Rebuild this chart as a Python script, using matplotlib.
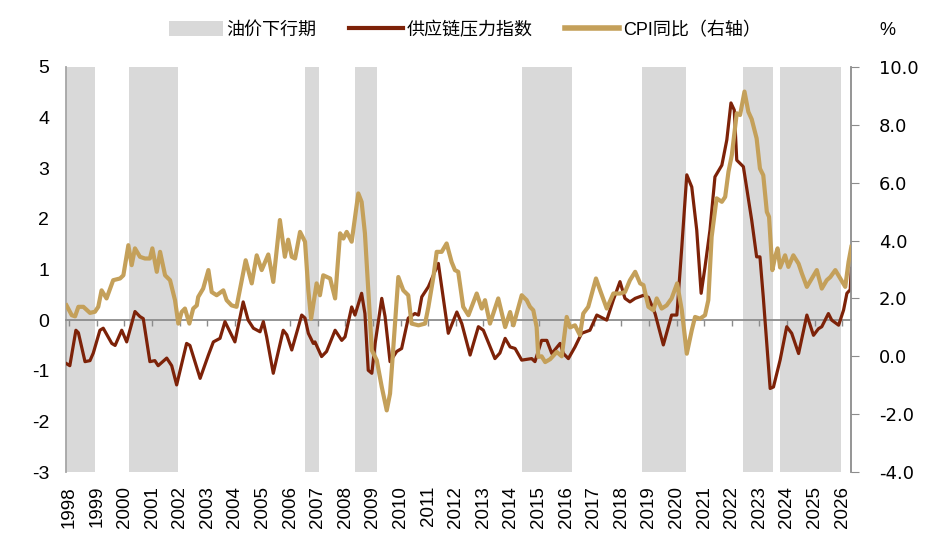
import numpy as np
import matplotlib
matplotlib.use("Agg")
import matplotlib.pyplot as plt
from matplotlib.patches import Patch
from matplotlib.lines import Line2D

plt.rcParams['font.family'] = ['Liberation Sans', 'Noto Sans CJK SC', 'DejaVu Sans']
plt.rcParams['axes.unicode_minus'] = False

# oil price down periods (decimal years)
oil_down = [(1997.88, 1998.94), (2000.17, 2001.95), (2006.54, 2007.04),
            (2008.35, 2009.14), (2014.39, 2016.20), (2018.74, 2020.34),
            (2022.40, 2023.50), (2023.75, 2025.95)]

# supply chain pressure index (left axis)
gscpi_t = [1997.90, 1998.02, 1998.24, 1998.33, 1998.57, 1998.75, 1998.87, 1999.11, 1999.23, 1999.54,
           1999.66, 1999.90, 2000.08, 2000.38, 2000.56, 2000.68, 2000.92, 2001.10, 2001.22, 2001.53,
           2001.71, 2001.89, 2002.25, 2002.37, 2002.74, 2003.04, 2003.22, 2003.46, 2003.64, 2004.00,
           2004.30, 2004.48, 2004.67, 2004.91, 2005.03, 2005.15, 2005.39, 2005.75, 2005.88, 2006.06,
           2006.42, 2006.54, 2006.66, 2006.84, 2006.90, 2007.14, 2007.32, 2007.63, 2007.87, 2007.99,
           2008.23, 2008.35, 2008.59, 2008.71, 2008.83, 2008.96, 2009.08, 2009.32, 2009.44, 2009.62,
           2009.86, 2010.04, 2010.28, 2010.52, 2010.65, 2010.77, 2011.01, 2011.37, 2011.73, 2012.04,
           2012.22, 2012.52, 2012.82, 2013.00, 2013.42, 2013.60, 2013.79, 2013.97, 2014.15, 2014.39,
           2014.75, 2014.87, 2015.11, 2015.30, 2015.48, 2015.78, 2015.90, 2016.08, 2016.32, 2016.56,
           2016.86, 2017.11, 2017.47, 2017.71, 2017.95, 2018.13, 2018.31, 2018.50, 2018.80, 2018.98,
           2019.22, 2019.52, 2019.82, 2020.01, 2020.19, 2020.37, 2020.55, 2020.73, 2020.89, 2021.03,
           2021.21, 2021.39, 2021.64, 2021.82, 2021.97, 2022.09, 2022.18, 2022.42, 2022.72, 2022.90,
           2023.02, 2023.14, 2023.39, 2023.51, 2023.75, 2023.99, 2024.17, 2024.42, 2024.72, 2024.96,
           2025.14, 2025.26, 2025.50, 2025.62, 2025.87, 2026.05, 2026.17, 2026.29, 2026.33]
gscpi_v = [-0.86, -0.90, -0.20, -0.25, -0.82, -0.80, -0.65, -0.20, -0.16, -0.46,
           -0.50, -0.20, -0.43, 0.17, 0.07, 0.03, -0.82, -0.80, -0.90, -0.75,
           -0.90, -1.28, -0.46, -0.50, -1.15, -0.69, -0.43, -0.36, -0.03, -0.43,
           0.36, 0.00, -0.16, -0.23, -0.03, -0.33, -1.05, -0.20, -0.29, -0.59,
           0.10, 0.04, -0.26, -0.46, -0.43, -0.72, -0.62, -0.20, -0.40, -0.33,
           0.26, 0.10, 0.53, 0.13, -0.99, -1.05, -0.46, 0.43, 0.07, -0.82,
           -0.62, -0.56, 0.04, 0.13, 0.10, 0.46, 0.66, 1.12, -0.26, 0.16,
           -0.07, -0.69, -0.13, -0.20, -0.76, -0.65, -0.36, -0.53, -0.56, -0.79,
           -0.76, -0.82, -0.40, -0.40, -0.66, -0.46, -0.66, -0.76, -0.53, -0.26,
           -0.20, 0.10, 0.00, 0.40, 0.76, 0.43, 0.36, 0.43, 0.49, 0.45,
           0.13, -0.49, 0.10, 0.10, 1.45, 2.87, 2.63, 1.78, 0.53, 1.05,
           1.78, 2.83, 3.06, 3.56, 4.29, 4.15, 3.16, 3.03, 1.98, 1.25,
           1.25, 0.46, -1.35, -1.32, -0.79, -0.13, -0.26, -0.66, 0.10, -0.30,
           -0.17, -0.13, 0.13, 0.00, -0.10, 0.20, 0.53, 0.60, 1.02]

# CPI yoy % (right axis)
cpi_t = [1997.90, 1998.09, 1998.21, 1998.33, 1998.51, 1998.75, 1998.93, 1999.05, 1999.17, 1999.35,
         1999.59, 1999.84, 1999.96, 2000.05, 2000.14, 2000.26, 2000.38, 2000.56, 2000.74, 2000.92,
         2001.01, 2001.17, 2001.29, 2001.47, 2001.65, 2001.83, 2001.95, 2002.07, 2002.19, 2002.35,
         2002.49, 2002.62, 2002.67, 2002.85, 2003.04, 2003.16, 2003.34, 2003.58, 2003.70, 2003.88,
         2004.06, 2004.25, 2004.39, 2004.61, 2004.79, 2004.97, 2005.21, 2005.39, 2005.63, 2005.81,
         2005.93, 2006.06, 2006.18, 2006.36, 2006.54, 2006.66, 2006.76, 2006.96, 2007.08, 2007.20,
         2007.45, 2007.63, 2007.81, 2007.93, 2008.05, 2008.23, 2008.47, 2008.59, 2008.71, 2008.83,
         2008.96, 2009.14, 2009.32, 2009.50, 2009.62, 2009.74, 2009.92, 2010.10, 2010.28, 2010.40,
         2010.65, 2010.89, 2011.01, 2011.19, 2011.31, 2011.49, 2011.67, 2011.85, 2011.97, 2012.09,
         2012.27, 2012.46, 2012.76, 2012.94, 2013.06, 2013.24, 2013.54, 2013.79, 2013.97, 2014.09,
         2014.39, 2014.57, 2014.69, 2014.81, 2014.93, 2014.99, 2015.11, 2015.24, 2015.42, 2015.66,
         2015.84, 2016.02, 2016.14, 2016.32, 2016.50, 2016.62, 2016.80, 2017.08, 2017.23, 2017.47,
         2017.71, 2017.95, 2018.13, 2018.31, 2018.50, 2018.68, 2018.80, 2018.98, 2019.16, 2019.28,
         2019.46, 2019.64, 2019.82, 2020.02, 2020.19, 2020.37, 2020.55, 2020.67, 2020.85, 2021.03,
         2021.15, 2021.27, 2021.45, 2021.64, 2021.76, 2021.88, 2022.00, 2022.18, 2022.30, 2022.46,
         2022.60, 2022.72, 2022.90, 2023.02, 2023.14, 2023.27, 2023.35, 2023.47, 2023.57, 2023.66,
         2023.75, 2023.93, 2024.05, 2024.23, 2024.42, 2024.54, 2024.72, 2024.90, 2025.08, 2025.26,
         2025.44, 2025.57, 2025.75, 2025.93, 2026.11, 2026.23, 2026.33]
cpi_v = [1.76, 1.42, 1.38, 1.71, 1.71, 1.50, 1.54, 1.71, 2.28, 2.00,
         2.63, 2.69, 2.80, 3.32, 3.84, 3.15, 3.73, 3.44, 3.38, 3.38,
         3.73, 2.92, 3.61, 2.80, 2.63, 1.94, 1.13, 1.53, 1.65, 1.13,
         1.65, 1.76, 2.05, 2.34, 2.98, 2.22, 2.11, 2.28, 1.94, 1.76,
         1.71, 2.63, 3.32, 2.52, 3.49, 2.98, 3.52, 2.57, 4.71, 3.44,
         4.03, 3.44, 3.38, 4.30, 3.96, 2.28, 1.30, 2.52, 2.11, 2.80,
         2.69, 2.00, 4.25, 4.07, 4.30, 3.96, 5.63, 5.34, 4.25, 2.34,
         0.21, -0.14, -1.06, -1.87, -1.29, 0.32, 2.74, 2.28, 2.11, 1.13,
         1.07, 1.13, 1.71, 2.74, 3.61, 3.61, 3.90, 3.26, 2.98, 2.92,
         1.71, 1.42, 2.17, 1.65, 1.94, 1.13, 2.00, 1.01, 1.53, 1.07,
         2.11, 1.94, 1.71, 1.59, 1.01, -0.02, 0.00, -0.20, -0.10, 0.15,
         0.00, 1.36, 1.00, 1.07, 0.73, 1.48, 1.71, 2.69, 2.28, 1.65,
         2.17, 2.17, 2.22, 2.63, 2.92, 2.52, 2.46, 1.71, 1.59, 2.00,
         1.65, 1.76, 2.00, 2.52, 1.59, 0.09, 0.90, 1.36, 1.30, 1.42,
         1.94, 4.13, 5.46, 5.34, 5.51, 6.38, 6.95, 8.40, 8.34, 9.15,
         8.45, 8.20, 7.53, 6.49, 6.26, 4.99, 4.82, 2.98, 3.44, 3.73,
         3.07, 3.49, 3.09, 3.49, 3.20, 2.86, 2.40, 2.69, 2.98, 2.34,
         2.63, 2.74, 2.98, 2.69, 2.40, 3.26, 3.78]

years = list(range(1998, 2027))

dark = '#7d2208'
gold = '#c4a05a'
grey = '#8c8c8c'

fig = plt.figure(figsize=(9.41, 5.39), dpi=100)
ax = fig.add_axes([0.0701, 0.1243, 0.8343, 0.7514])

for a, b in oil_down:
    ax.axvspan(a, b, color='#d9d9d9', lw=0, zorder=0)

ax.plot(gscpi_t, gscpi_v, color=dark, lw=2.3, zorder=3)
ax.set_xlim(1997.88, 2026.32)
ax.set_ylim(-3, 5)
ax.set_yticks(range(-3, 6))
ax.tick_params(axis='y', length=0, pad=12, labelsize=14)

# x axis line sits at zero, labels at the bottom
ax.spines['bottom'].set_position(('data', 0))
ax.spines['bottom'].set_color(grey)
ax.spines['bottom'].set_linewidth(1.3)
ax.set_xticks(years)
ax.tick_params(axis='x', length=4, color=grey, width=1, labelbottom=False)
for s in ['top', 'right']:
    ax.spines[s].set_visible(False)
ax.spines['left'].set_color('#a6a6a6')
ax.spines['left'].set_linewidth(1.3)

secx = ax.secondary_xaxis('bottom')
secx.set_xticks(years)
secx.set_xticklabels([str(y) for y in years], rotation=90, fontsize=13.5)
secx.tick_params(length=0, pad=10)
secx.spines['bottom'].set_visible(False)

ax2 = ax.twinx()
ax2.plot(cpi_t, cpi_v, color=gold, lw=3, zorder=4)
ax2.set_ylim(-4, 10)
ax2.set_yticks(np.arange(-4, 11, 2))
ax2.set_yticklabels(['%.1f' % v for v in np.arange(-4, 11, 2)], family='DejaVu Sans')
ax2.tick_params(axis='y', length=6, color=grey, pad=14, labelsize=13)
for s in ['top', 'left', 'bottom']:
    ax2.spines[s].set_visible(False)
ax2.spines['right'].set_color(grey)
ax2.spines['right'].set_linewidth(1.3)

handles = [Patch(facecolor='#d9d9d9', edgecolor='none'),
           Line2D([0], [0], color=dark, lw=3),
           Line2D([0], [0], color=gold, lw=4)]
labels = ['油价下行期', '供应链压力指数', 'CPI同比（右轴）']
fig.legend(handles, labels, loc='center', bbox_to_anchor=(0.494, 0.944), ncol=3,
           frameon=False, fontsize=13, handlelength=3.0, handleheight=0.9,
           handletextpad=0.2, columnspacing=1.8)
fig.text(0.943, 0.944, '%', ha='center', va='center', fontsize=13)

fig.savefig('out.png', dpi=100)
